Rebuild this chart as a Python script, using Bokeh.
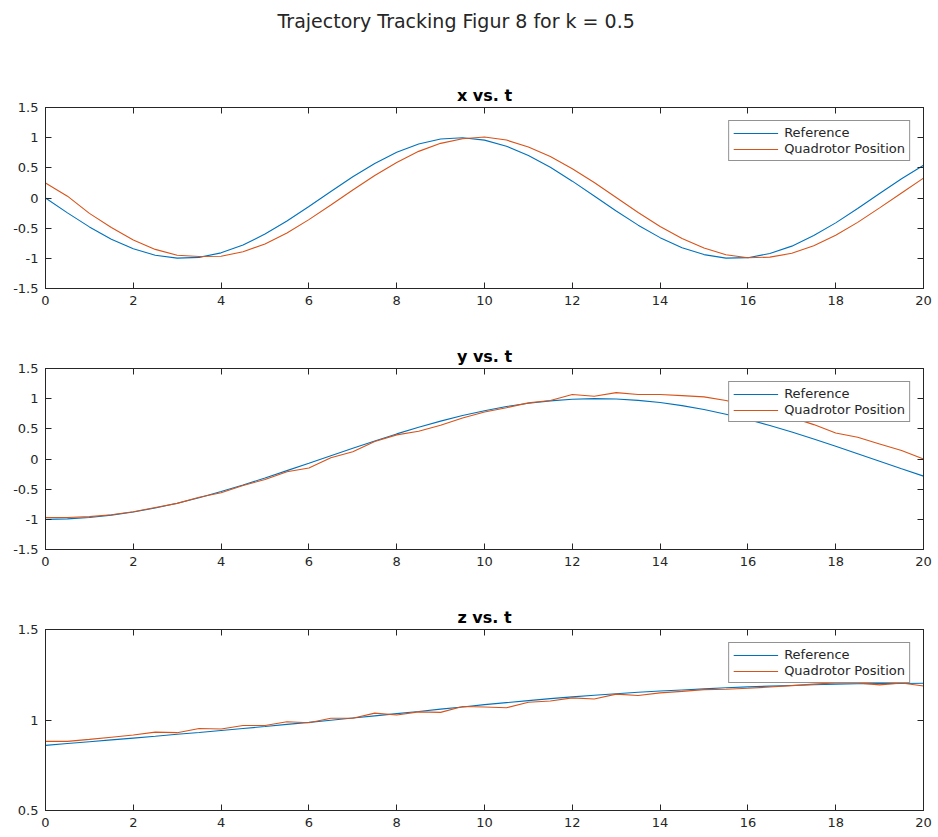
from bokeh.plotting import figure
from bokeh.models import Range1d, FixedTicker, LinearAxis, Legend, LegendItem, CustomJSTickFormatter
from bokeh.layouts import column
from bokeh.embed import file_html
from bokeh.resources import INLINE

# ---------------- data ----------------
t = [0.0, 0.5, 1.0, 1.5, 2.0, 2.5, 3.0, 3.5, 4.0, 4.5,
     5.0, 5.5, 6.0, 6.5, 7.0, 7.5, 8.0, 8.5, 9.0, 9.5,
     10.0, 10.5, 11.0, 11.5, 12.0, 12.5, 13.0, 13.5, 14.0, 14.5,
     15.0, 15.5, 16.0, 16.5, 17.0, 17.5, 18.0, 18.5, 19.0, 19.5, 20.0]

x_ref = [0.000, -0.247, -0.479, -0.682, -0.841, -0.949, -0.997, -0.984, -0.909, -0.778,
         -0.598, -0.382, -0.141, 0.108, 0.351, 0.572, 0.757, 0.895, 0.978, 0.999,
         0.959, 0.859, 0.706, 0.510, 0.279, 0.033, -0.215, -0.450, -0.657, -0.823,
         -0.938, -0.996, -0.989, -0.919, -0.798, -0.622, -0.412, -0.174, 0.075, 0.319, 0.544]
x_quad = [0.250, 0.030, -0.255, -0.490, -0.695, -0.852, -0.950, -0.970, -0.965, -0.890,
          -0.763, -0.579, -0.358, -0.116, 0.133, 0.373, 0.590, 0.773, 0.906, 0.982,
          1.010, 0.960, 0.846, 0.687, 0.486, 0.256, 0.008, -0.240, -0.472, -0.671,
          -0.830, -0.940, -0.990, -0.980, -0.917, -0.793, -0.619, -0.404, -0.163, 0.083, 0.330]

y_ref = [-1.000, -0.992, -0.969, -0.930, -0.878, -0.811, -0.732, -0.641, -0.540, -0.431,
         -0.315, -0.193, -0.071, 0.054, 0.178, 0.298, 0.416, 0.526, 0.628, 0.720,
         0.801, 0.870, 0.924, 0.964, 0.990, 1.000, 0.994, 0.972, 0.936, 0.884,
         0.820, 0.743, 0.654, 0.555, 0.446, 0.331, 0.211, 0.087, -0.037, -0.162, -0.284]
y_quad = [-0.970, -0.970, -0.955, -0.925, -0.875, -0.805, -0.735, -0.635, -0.560, -0.440,
          -0.340, -0.210, -0.150, 0.020, 0.120, 0.290, 0.400, 0.460, 0.560, 0.680,
          0.780, 0.850, 0.930, 0.970, 1.070, 1.040, 1.100, 1.070, 1.070, 1.050,
          1.030, 0.970, 0.880, 0.780, 0.690, 0.570, 0.430, 0.360, 0.250, 0.140, 0.000]

z_ref = [0.860, 0.870, 0.880, 0.890, 0.900, 0.910, 0.921, 0.931, 0.942, 0.953,
         0.964, 0.976, 0.987, 0.999, 1.011, 1.023, 1.035, 1.047, 1.060, 1.072,
         1.085, 1.096, 1.107, 1.118, 1.128, 1.137, 1.145, 1.153, 1.160, 1.166,
         1.172, 1.178, 1.183, 1.187, 1.191, 1.195, 1.198, 1.200, 1.201, 1.202, 1.203]
z_quad = [0.882, 0.882, 0.893, 0.905, 0.917, 0.933, 0.930, 0.953, 0.950, 0.970,
          0.970, 0.990, 0.985, 1.010, 1.010, 1.038, 1.028, 1.045, 1.042, 1.075,
          1.072, 1.068, 1.098, 1.105, 1.122, 1.116, 1.143, 1.135, 1.150, 1.158,
          1.168, 1.170, 1.175, 1.182, 1.190, 1.198, 1.205, 1.205, 1.194, 1.204, 1.188]

x_ticks = [0, 2, 4, 6, 8, 10, 12, 14, 16, 18, 20]
xy_ticks = [-1.5, -1, -0.5, 0, 0.5, 1, 1.5]
z_ticks = [0.5, 1, 1.5]

main_title = "Trajectory Tracking Figur 8 for k = 0.5"
series_names = ["Reference", "Quadrotor Position"]

# ---------------- styling ----------------
FONT = "DejaVu Sans"
INK = "#262626"
BLUE = "#0072BD"
ORANGE = "#D95319"


def style_axis(ax, ticks, show_labels=True):
    ax.ticker = FixedTicker(ticks=ticks)
    ax.major_tick_in = 6
    ax.major_tick_out = 0
    ax.minor_tick_line_color = None
    ax.axis_line_color = INK
    ax.major_tick_line_color = INK
    ax.major_label_text_font = FONT
    ax.formatter = CustomJSTickFormatter(code="return tick.toString();")
    if show_labels:
        ax.major_label_text_color = INK
        ax.major_label_text_font_size = "13px"
        ax.major_label_standoff = 7
    else:
        # tick marks only (box on all four sides), no labels drawn
        ax.major_label_text_color = None
        ax.major_label_text_font_size = "1px"
        ax.major_label_standoff = 0


def panel(title, ref, quad, ylo, yhi, yticks):
    p = figure(width=938, height=261, x_range=Range1d(0, 20), y_range=Range1d(ylo, yhi),
               toolbar_location=None, output_backend="svg",
               min_border_left=45, min_border_right=15, min_border_top=54, min_border_bottom=26)
    p.xgrid.visible = False
    p.ygrid.visible = False
    p.outline_line_color = INK
    p.outline_line_width = 1
    p.background_fill_color = "white"
    p.border_fill_color = "white"

    style_axis(p.xaxis[0], x_ticks)
    style_axis(p.yaxis[0], yticks)
    top = LinearAxis()
    right = LinearAxis()
    p.add_layout(top, "above")
    p.add_layout(right, "right")
    style_axis(top, x_ticks, show_labels=False)
    style_axis(right, yticks, show_labels=False)

    p.title.text = title
    p.title.align = "center"
    p.title.text_font = FONT
    p.title.text_font_style = "bold"
    p.title.text_font_size = "16px"
    p.title.text_color = "black"
    p.title.standoff = 5

    r1 = p.line(t, ref, line_color=BLUE, line_width=1.1)
    r2 = p.line(t, quad, line_color=ORANGE, line_width=1.1)

    legend = Legend(items=[LegendItem(label=series_names[0], renderers=[r1]),
                           LegendItem(label=series_names[1], renderers=[r2])],
                    location="top_right")
    legend.margin = 13
    legend.padding = 4
    legend.spacing = 1
    legend.glyph_width = 45
    legend.glyph_height = 14
    legend.label_height = 14
    legend.label_standoff = 6
    legend.label_text_font = FONT
    legend.label_text_font_size = "13px"
    legend.label_text_color = INK
    legend.border_line_color = INK
    legend.border_line_width = 1
    legend.background_fill_color = "white"
    legend.background_fill_alpha = 1
    p.add_layout(legend)
    return p


head = figure(width=938, height=53, x_range=Range1d(0, 1), y_range=Range1d(0, 1),
              toolbar_location=None, output_backend="svg",
              min_border_left=0, min_border_right=0, min_border_top=36, min_border_bottom=0)
head.xaxis.visible = False
head.yaxis.visible = False
head.xgrid.visible = False
head.ygrid.visible = False
head.outline_line_color = None
head.title.text = main_title
head.title.align = "left"
head.title.offset = 232
head.title.text_font = FONT
head.title.text_font_style = "normal"
head.title.text_font_size = "19px"
head.title.text_color = INK

p1 = panel("x vs. t", x_ref, x_quad, -1.5, 1.5, xy_ticks)
p2 = panel("y vs. t", y_ref, y_quad, -1.5, 1.5, xy_ticks)
p3 = panel("z vs. t", z_ref, z_quad, 0.5, 1.5, z_ticks)

layout = column(head, p1, p2, p3, spacing=0)
open("out.html", "w").write(file_html(layout, INLINE))
